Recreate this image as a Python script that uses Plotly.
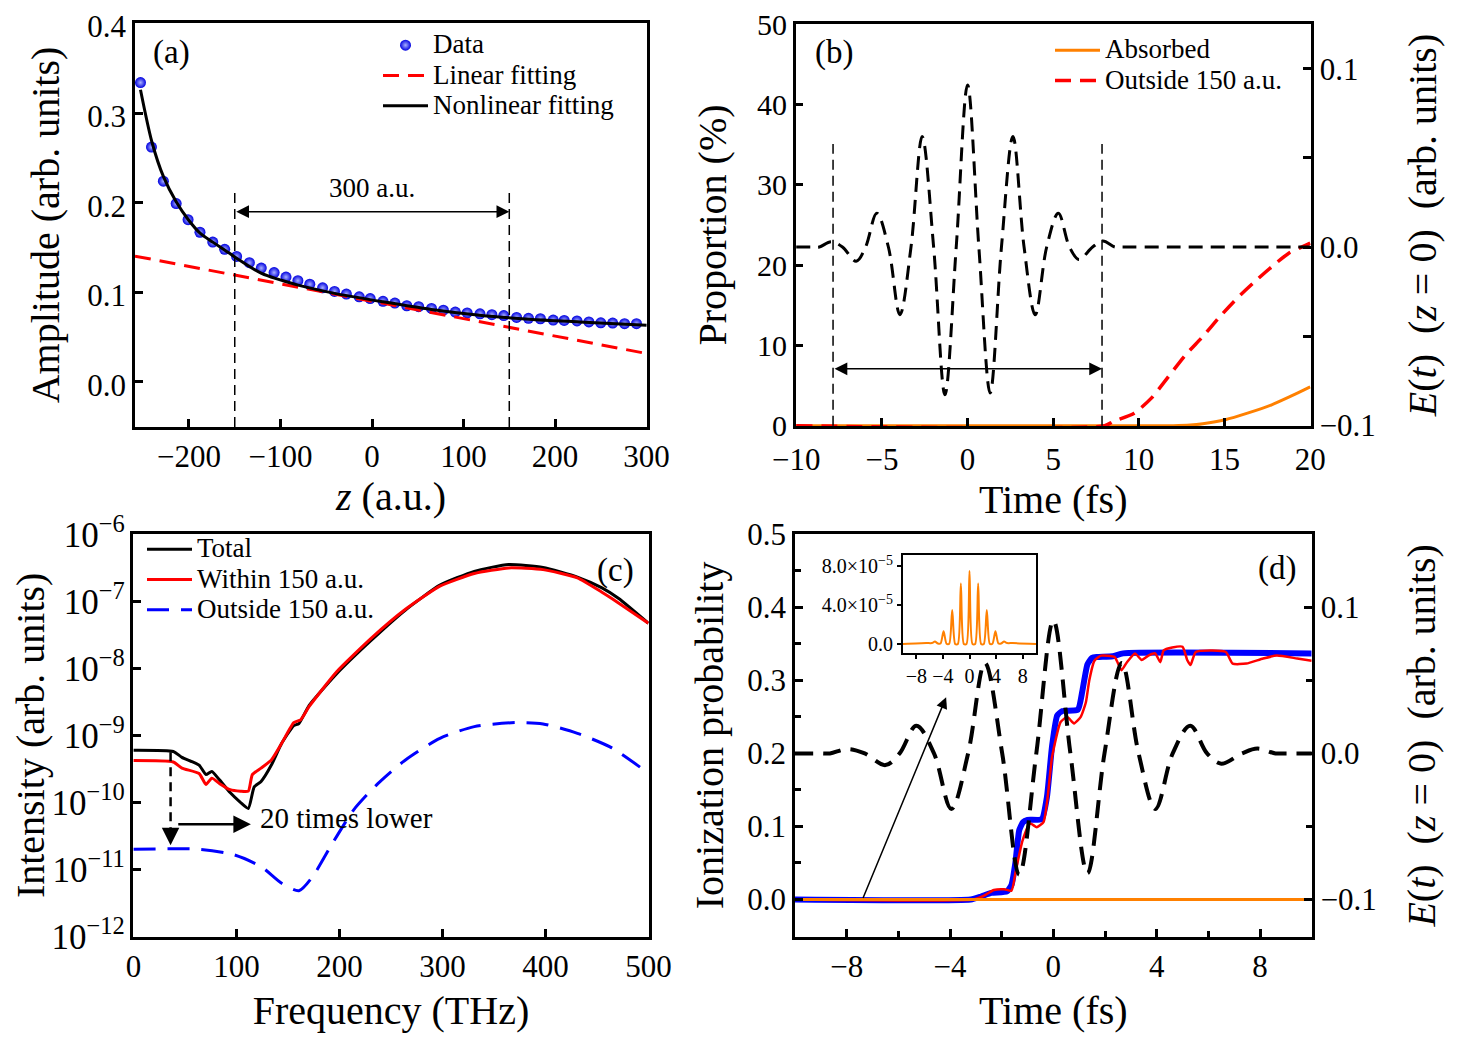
import math
import plotly.graph_objects as go

FONT = "Liberation Serif"
PAGE_W, PAGE_H = 1458, 1041
OX, OY = 8, 8                      # default page body margin
W, H = PAGE_W - OX, PAGE_H - OY    # figure size that fits the window

# ----------------------------- panel (a) data -----------------------------
z_data = [-253, -241, -228, -214, -201, -188, -174, -161, -148, -134, -121, -107,
          -94, -81, -68, -54, -41, -28, -14, -2, 12, 25, 38, 51, 65, 78, 91, 104,
          118, 131, 144, 158, 171, 184, 198, 210, 224, 237, 250, 263, 276, 289]
amp_data = [0.334, 0.262, 0.224, 0.199, 0.181, 0.167, 0.156, 0.148, 0.140, 0.133,
            0.127, 0.122, 0.117, 0.113, 0.109, 0.105, 0.101, 0.098, 0.095, 0.093,
            0.090, 0.088, 0.085, 0.084, 0.082, 0.080, 0.078, 0.077, 0.076, 0.075,
            0.074, 0.072, 0.071, 0.0705, 0.069, 0.0686, 0.068, 0.067, 0.066,
            0.0657, 0.065, 0.065]
z_nonlin = [-253, -240.6, -227.9, -214, -200.7, -187.9, -174, -160.7, -147.9,
            -120.7, -80.8, -40.8, 12, 64.8, 117.5, 172, 226.6, 300]
amp_nonlin = [0.326, 0.268, 0.229, 0.201, 0.181, 0.166, 0.156, 0.147, 0.138,
              0.121, 0.108, 0.0988, 0.0894, 0.0809, 0.0745, 0.070, 0.067, 0.0633]
z_linear = [-259, 300]
amp_linear = [0.1404, 0.0317]
window_a = [-150, 150]
window_a_top = 0.216
window_a_arrow = 0.19
label_a = "300 a.u."

# ----------------------------- panel (b) data -----------------------------
t_field = [-10, -9, -8.65, -7.95, -7.3, -6.5, -5.95, -5.3, -4.62, -3.95, -3.3,
           -2.65, -1.98, -1.32, -0.66, 0, 0.66, 1.32, 1.98, 2.65, 3.3, 3.95, 4.62,
           5.3, 5.95, 6.5, 7.3, 7.9, 8.6, 9, 12, 16, 20]
e_field = [0, 0, 0, 0.003, 0, -0.008, 0, 0.019, 0, -0.038, 0,
           0.062, 0, -0.083, 0, 0.091, 0, -0.082, 0, 0.062, 0, -0.038, 0,
           0.019, 0, -0.007, 0, 0.0033, 0, 0, 0, 0, 0]
t_absorbed = [-10, 12.0, 13.0, 13.73, 15.04, 16.34, 17.75, 18.75, 19.85, 20]
p_absorbed = [0, 0, 0.08, 0.25, 0.75, 1.57, 2.61, 3.56, 4.69, 4.85]
t_outside = [-10, 8.0, 8.52, 9.73, 10.73, 11.73, 12.73, 13.73, 14.73, 15.74,
             16.74, 17.75, 18.75, 19.85, 20]
p_outside = [0, 0, 0.54, 1.57, 3.44, 6.13, 8.83, 11.1, 13.6, 15.9,
             17.9, 19.8, 21.5, 22.6, 22.75]
window_b = [-7.85, 7.85]
window_b_top = 35.1
window_b_arrow = 7.1

# ----------------------------- panel (c) data -----------------------------
freq_total = [0, 38.6, 47.0, 63.7, 70.4, 76.0, 83.7, 93.8, 103.8, 111.5,
              117.2, 123.9, 133.9, 143.9, 155.6, 160.6, 170.6, 197.3, 230.7, 264.1,
              297.5, 330.9, 364.3, 397.7, 431.1, 454.5, 471.2, 500]
int_total = [6.0e-10, 5.75e-10, 4.7e-10, 3.6e-10, 2.6e-10, 2.9e-10, 2.15e-10, 1.4e-10, 1.0e-10, 8.1e-11,
             1.7e-10, 2.05e-10, 3.6e-10, 7.6e-10, 1.4e-9, 1.5e-9, 2.8e-9, 8.3e-9, 2.6e-8, 7.4e-8,
             1.74e-7, 2.8e-7, 3.55e-7, 3.2e-7, 2.3e-7, 1.6e-7, 1.1e-7, 4.7e-8]
freq_within = [0, 38.6, 47.0, 63.7, 70.4, 76.0, 83.7, 93.8, 103.8, 111.5,
               115.4, 123.9, 133.9, 143.9, 155.6, 162.3, 170.6, 197.3, 230.7, 264.1,
               297.5, 330.9, 364.3, 397.7, 431.1, 454.5, 464.5, 500]
int_within = [4.2e-10, 4.0e-10, 3.25e-10, 2.7e-10, 1.85e-10, 2.3e-10, 1.9e-10, 1.55e-10, 1.47e-10, 1.47e-10,
              2.6e-10, 3.25e-10, 4.3e-10, 7.6e-10, 1.55e-9, 1.7e-9, 2.7e-9, 8.9e-9, 2.8e-8, 7.6e-8,
              1.68e-7, 2.6e-7, 3.15e-7, 2.97e-7, 2.24e-7, 1.38e-7, 1.1e-7, 4.7e-8]
freq_outside = [0, 63.7, 97.1, 123.9, 143.9, 160.6, 173.9, 190.6, 214.0, 237.3,
                264.1, 297.5, 330.9, 371.0, 397.7, 431.1, 464.5, 496.2]
int_outside = [2.0e-11, 2.0e-11, 1.66e-11, 1.1e-11, 6.2e-12, 4.8e-12, 7.8e-12, 2.1e-11, 7.8e-11, 1.9e-10,
               4.3e-10, 9.0e-10, 1.35e-9, 1.55e-9, 1.48e-9, 1.07e-9, 6.5e-10, 3.0e-10]
drop_f = 36
drop_top = 5.6e-10
drop_tail = 4.0e-11
drop_tip = 2.3e-11
shift_f = [42, 114]
shift_level = 4.7e-11
label_c = "20 times lower"
label_c_pos = [121, 5.8e-11]

# ----------------------------- panel (d) data -----------------------------
t_blue = [-10, -3.2, -2.8, -2.4, -1.8, -1.62, -1.47, -1.32, -1.17, -1.0, -0.45,
          -0.25, -0.05, 0.15, 0.35, 0.95, 1.12, 1.32, 1.5, 1.7, 2.3, 2.7, 10]
p_blue = [0, 0, 0.004, 0.009, 0.011, 0.02, 0.05, 0.095, 0.106, 0.109, 0.11,
          0.14, 0.21, 0.252, 0.258, 0.26, 0.285, 0.322, 0.331, 0.332, 0.333, 0.337, 0.337]
t_red = [-10, -3.1, -2.7, -2.3, -1.9, -1.62, -1.45, -1.19, -0.9, -0.64, -0.38,
         -0.22, -0.05, 0.28, 0.54, 0.80, 1.06, 1.26, 1.39, 1.59, 1.85, 2.37, 2.64,
         2.85, 3.16, 3.42, 3.68, 3.94, 4.14, 4.27, 4.6, 5.0, 5.18, 5.31, 5.51, 6.16,
         6.68, 6.94, 7.47, 8.12, 8.65, 9.44, 10]
p_red = [0, 0, 0.005, 0.013, 0.014, 0.012, 0.04, 0.081, 0.104, 0.099, 0.106,
         0.14, 0.195, 0.243, 0.25, 0.241, 0.25, 0.27, 0.30, 0.327, 0.334, 0.332, 0.314,
         0.325, 0.337, 0.328, 0.334, 0.337, 0.325, 0.341, 0.345, 0.346, 0.328, 0.321, 0.339, 0.341,
         0.339, 0.323, 0.323, 0.33, 0.334, 0.330, 0.327]
t_abs_d = [-10, 10]
p_abs_d = [0, 0]
pointer_tail = [-7.39, 0.0]
pointer_head = [-4.15, 0.277]

# inset
t_inset = [-10, -6.5, -5.65, -5.2, -4.75, -4.35, -3.9, -3.45, -3.05, -2.6, -2.15,
           -1.75, -1.3, -0.85, -0.45, 0, 0.45, 0.85, 1.3, 1.75, 2.15, 2.6, 3.05,
           3.45, 3.9, 4.35, 4.75, 5.2, 5.65, 6.5, 10]
rate_inset = [0, 0.1e-5, 0.1e-5, 0.25e-5, 0.05e-5, 0.05e-5, 1.3e-5, 0.02e-5, 0.02e-5, 3.5e-5, 0.0,
              0.0, 6.2e-5, 0.0, 0.0, 7.5e-5, 0.0, 0.0, 6.2e-5, 0.0, 0.0, 3.5e-5, 0.02e-5,
              0.02e-5, 1.3e-5, 0.05e-5, 0.05e-5, 0.25e-5, 0.1e-5, 0.1e-5, 0]
inset_yticks = [0, 4e-5, 8e-5]
inset_yticktext = ["0.0", "4.0×10<sup>−5</sup>", "8.0×10<sup>−5</sup>"]
inset_xticks = [-8, -4, 0, 4, 8]

# ----------------------------- ranges -----------------------------
ya_range = [-0.0503, 0.4005]
yb_range = [-0.03, 50.05]
yd_range = [-0.051, 0.5005]


def xd(a, b):
    return [(a - OX) / W, (b - OX) / W]


def yd(top, bottom):
    return [1 - (bottom - OY) / H, 1 - (top - OY) / H]


def px(x):
    return (x - OX) / W


def py(y):
    return 1 - (y - OY) / H


def big(s, size=27):
    return "<span style='font-size:%dpx'>%s</span>" % (size, s)


fig = go.Figure()

# ---- (a)
fig.add_trace(go.Scatter(x=z_data, y=amp_data, mode="markers", name=big("Data"),
                         marker=dict(size=11, color="#0000e0",
                                     gradient=dict(type="radial", color="#a8b0ff"),
                                     line=dict(width=0)),
                         xaxis="x", yaxis="y", legend="legend", legendrank=1))
fig.add_trace(go.Scatter(x=z_linear, y=amp_linear, mode="lines", name=big("Linear fitting"),
                         line=dict(color="#ff0000", width=3, dash="16px,9px"),
                         xaxis="x", yaxis="y", legend="legend", legendrank=2))
fig.add_trace(go.Scatter(x=z_nonlin, y=amp_nonlin, mode="lines", name=big("Nonlinear fitting"),
                         line=dict(color="black", width=3, shape="spline", smoothing=0.8),
                         xaxis="x", yaxis="y", legend="legend", legendrank=3))
fig.add_trace(go.Scatter(x=[window_a[0], window_a[0], None, window_a[1], window_a[1]],
                         y=[ya_range[0], window_a_top, None, ya_range[0], window_a_top],
                         mode="lines", line=dict(color="black", width=1.5, dash="10px,6px"),
                         showlegend=False, xaxis="x", yaxis="y"))

# ---- (b)
fig.add_trace(go.Scatter(x=t_absorbed, y=p_absorbed, mode="lines", name=big("Absorbed"),
                         line=dict(color="#ff8000", width=3, shape="spline", smoothing=0.6),
                         xaxis="x2", yaxis="y3", legend="legend2"))
fig.add_trace(go.Scatter(x=t_outside, y=p_outside, mode="lines", name=big("Outside 150 a.u."),
                         line=dict(color="#ff0000", width=3.5, dash="16px,9px",
                                   shape="spline", smoothing=0.6),
                         xaxis="x2", yaxis="y3", legend="legend2"))
fig.add_trace(go.Scatter(x=[window_b[0], window_b[0], None, window_b[1], window_b[1]],
                         y=[0, window_b_top, None, 0, window_b_top],
                         mode="lines", line=dict(color="black", width=1.5, dash="10px,6px"),
                         showlegend=False, xaxis="x2", yaxis="y3"))
fig.add_trace(go.Scatter(x=t_field, y=e_field, mode="lines", showlegend=False,
                         line=dict(color="black", width=3, dash="14px,8px",
                                   shape="spline", smoothing=1.0),
                         xaxis="x2", yaxis="y4"))

# ---- (c)
fig.add_trace(go.Scatter(x=freq_total, y=int_total, mode="lines", name=big("Total"),
                         line=dict(color="black", width=3, shape="spline", smoothing=0.5),
                         xaxis="x3", yaxis="y5", legend="legend3"))
fig.add_trace(go.Scatter(x=freq_within, y=int_within, mode="lines", name=big("Within 150 a.u."),
                         line=dict(color="#ff0000", width=3, shape="spline", smoothing=0.5),
                         xaxis="x3", yaxis="y5", legend="legend3"))
fig.add_trace(go.Scatter(x=freq_outside, y=int_outside, mode="lines", name=big("Outside 150 a.u."),
                         line=dict(color="#0000ff", width=3, dash="22px,12px",
                                   shape="spline", smoothing=0.7),
                         xaxis="x3", yaxis="y5", legend="legend3"))
fig.add_trace(go.Scatter(x=[drop_f, drop_f], y=[drop_top, drop_tail], mode="lines",
                         line=dict(color="black", width=2.5, dash="9px,6px"),
                         showlegend=False, xaxis="x3", yaxis="y5"))

# ---- (d)
fig.add_trace(go.Scatter(x=t_blue, y=p_blue, mode="lines", showlegend=False,
                         line=dict(color="#0000ff", width=6, shape="spline", smoothing=0.5),
                         xaxis="x4", yaxis="y6"))
fig.add_trace(go.Scatter(x=t_red, y=p_red, mode="lines", showlegend=False,
                         line=dict(color="#ff0000", width=2.5, shape="spline", smoothing=0.5),
                         xaxis="x4", yaxis="y6"))
fig.add_trace(go.Scatter(x=t_abs_d, y=p_abs_d, mode="lines", showlegend=False,
                         line=dict(color="#ff8000", width=3),
                         xaxis="x4", yaxis="y6"))
fig.add_trace(go.Scatter(x=t_field, y=e_field, mode="lines", showlegend=False,
                         line=dict(color="black", width=4, dash="18px,10px",
                                   shape="spline", smoothing=1.0),
                         xaxis="x4", yaxis="y7"))

# ---- inset
fig.add_trace(go.Scatter(x=t_inset, y=rate_inset, mode="lines", showlegend=False,
                         line=dict(color="#ff8000", width=2, shape="spline", smoothing=0.7),
                         xaxis="x5", yaxis="y8"))

tickfont = dict(family=FONT, size=31, color="black")
titlefont = dict(family=FONT, size=40, color="black")


def base_axis(**kw):
    d = dict(showline=True, linewidth=2.5, linecolor="black", mirror=True,
             ticks="inside", ticklen=8, tickwidth=2.5, tickcolor="black",
             showgrid=False, zeroline=False, tickfont=tickfont,
             ticklabeloverflow="allow")
    d.update(kw)
    return d


E_title = "<i>E</i>(<i>t</i>)  (<i>z</i> = 0)  (arb. units)"
legend_common = dict(xanchor="left", yanchor="top",
                     font=dict(family=FONT, size=21, color="black"),
                     bgcolor="rgba(0,0,0,0)", itemwidth=45, tracegroupgap=0)

fig.update_layout(
    width=W, height=H,
    margin=dict(l=0, r=0, t=0, b=0, pad=0, autoexpand=False),
    paper_bgcolor="white", plot_bgcolor="white",
    font=dict(family=FONT, color="black"),
    hovermode=False,
    # (a)
    xaxis=base_axis(domain=xd(135, 647), range=[-259, 300.5], dtick=100, tick0=0,
                    anchor="y",
                    title=dict(text="<i>z</i> (a.u.)", font=titlefont, standoff=10)),
    yaxis=base_axis(domain=yd(23, 427), range=ya_range, dtick=0.1, tickformat=".1f",
                    anchor="x", ticklabelshift=3,
                    title=dict(text="Amplitude (arb. units)", font=titlefont, standoff=16)),
    yaxis2=dict(overlaying="y", side="right", anchor="x", range=[0, 4], dtick=1,
                showticklabels=False, ticks="inside", ticklen=8, tickwidth=2.5,
                tickcolor="black", showline=False, showgrid=False, zeroline=False),
    # (b)
    xaxis2=base_axis(domain=xd(795.7, 1310.7), range=[-10.03, 20.03], dtick=5, tick0=0,
                     anchor="y3", ticklabelstandoff=4,
                     title=dict(text="Time (fs)", font=titlefont, standoff=6)),
    yaxis3=base_axis(domain=yd(24, 426), range=yb_range, dtick=10, anchor="x2",
                     tickfont=dict(family=FONT, size=30, color="black"),
                     title=dict(text="Proportion (%)", font=titlefont, standoff=18)),
    yaxis4=base_axis(overlaying="y3", side="right", anchor="x2", range=[-0.1005, 0.1252],
                     tickvals=[-0.1, 0.0, 0.1], tickformat=".1f", mirror=False,
                     minor=dict(ticks="inside", ticklen=8, tickwidth=2.5, dtick=0.05,
                                tick0=0, tickcolor="black"),
                     title=dict(text=E_title, font=titlefont, standoff=34)),
    # (c)
    xaxis3=base_axis(domain=xd(133.2, 648.7), range=[-0.3, 500.3], dtick=100, tick0=0,
                     anchor="y5",
                     title=dict(text="Frequency (THz)", font=titlefont, standoff=14)),
    yaxis5=base_axis(domain=yd(534, 936.7), type="log", range=[-12.004, -5.996], dtick=1,
                     exponentformat="power", anchor="x3",
                     tickfont=dict(family=FONT, size=28, color="black"),
                     title=dict(text="Intensity (arb. units)", font=titlefont, standoff=20)),
    # (d)
    xaxis4=base_axis(domain=xd(795, 1311.7), range=[-10, 10], dtick=4, tick0=0,
                     anchor="y6",
                     minor=dict(ticks="inside", ticklen=6, tickwidth=2.5, dtick=2, tick0=0,
                                tickcolor="black"),
                     title=dict(text="Time (fs)", font=titlefont, standoff=14)),
    yaxis6=base_axis(domain=yd(534, 936.7), range=yd_range, dtick=0.1, tickformat=".1f",
                     anchor="x4",
                     minor=dict(ticks="inside", ticklen=6, tickwidth=2.5, dtick=0.05, tick0=0,
                                tickcolor="black"),
                     title=dict(text="Ionization probability", font=titlefont, standoff=12)),
    yaxis7=base_axis(overlaying="y6", side="right", anchor="x4",
                     range=[(yd_range[0] - 0.2) / 2, (yd_range[1] - 0.2) / 2],
                     tickvals=[-0.1, 0.0, 0.1], tickformat=".1f", mirror=False,
                     minor=dict(ticks="inside", ticklen=6, tickwidth=2.5, dtick=0.05,
                                tick0=0, tickcolor="black"),
                     title=dict(text=E_title, font=titlefont, standoff=32)),
    # inset
    xaxis5=dict(domain=xd(903, 1036), range=[-10, 10], tickvals=inset_xticks,
                anchor="y8", showline=True, linewidth=2, linecolor="black", mirror=True,
                ticks="outside", ticklen=4, tickwidth=1.5, tickcolor="black",
                showgrid=False, zeroline=False,
                tickfont=dict(family=FONT, size=20, color="black")),
    yaxis8=dict(domain=yd(555, 653), range=[-0.92e-5, 9.13e-5], tickvals=inset_yticks,
                ticktext=inset_yticktext, anchor="x5", showline=True, linewidth=2,
                linecolor="black", mirror=True, ticks="outside", ticklen=4, tickwidth=1.5,
                tickcolor="black", showgrid=False, zeroline=False,
                tickfont=dict(family=FONT, size=20, color="black")),
    legend=dict(x=px(378), y=py(25), **legend_common),
    legend2=dict(x=px(1050), y=py(30), **legend_common),
    legend3=dict(x=px(142), y=py(529), **legend_common),
)

ann = []
# (a) double arrow and label
ann.append(dict(x=window_a[1], y=window_a_arrow, ax=window_a[0], ay=window_a_arrow,
                xref="x", yref="y", axref="x", ayref="y", text="", showarrow=True,
                arrowside="end+start", arrowhead=2, startarrowhead=2, arrowsize=1.7,
                startarrowsize=1.7, arrowwidth=1.5, arrowcolor="black"))
ann.append(dict(x=0, y=window_a_top, xref="x", yref="y", text=label_a, showarrow=False,
                xanchor="center", yanchor="middle",
                font=dict(family=FONT, size=27, color="black")))
# (b) double arrow
ann.append(dict(x=window_b[1], y=window_b_arrow, ax=window_b[0], ay=window_b_arrow,
                xref="x2", yref="y3", axref="x2", ayref="y3", text="", showarrow=True,
                arrowside="end+start", arrowhead=2, startarrowhead=2, arrowsize=1.7,
                startarrowsize=1.7, arrowwidth=1.5, arrowcolor="black"))
# (c) arrows and label (log axis: annotation positions in log10 units)
ann.append(dict(x=drop_f, y=math.log10(drop_tip), ax=drop_f, ay=math.log10(drop_tail),
                xref="x3", yref="y5", axref="x3", ayref="y5", text="", showarrow=True,
                arrowhead=2, arrowsize=1.4, arrowwidth=2.5, arrowcolor="black"))
ann.append(dict(x=shift_f[1], y=math.log10(shift_level), ax=shift_f[0], ay=math.log10(shift_level),
                xref="x3", yref="y5", axref="x3", ayref="y5", text="", showarrow=True,
                arrowhead=2, arrowsize=1.4, arrowwidth=2.5, arrowcolor="black"))
ann.append(dict(x=label_c_pos[0], y=math.log10(label_c_pos[1]), xref="x3", yref="y5",
                xanchor="left", yanchor="middle", text=label_c, showarrow=False,
                font=dict(family=FONT, size=29, color="black")))
# (d) pointer to inset
ann.append(dict(x=pointer_head[0], y=pointer_head[1], ax=pointer_tail[0], ay=pointer_tail[1],
                xref="x4", yref="y6", axref="x4", ayref="y6", text="", showarrow=True,
                arrowhead=2, arrowsize=1.5, arrowwidth=1.5, arrowcolor="black"))
# panel labels
for txt, xx, yy in [("(a)", 171, 52), ("(b)", 834, 52), ("(c)", 615, 570), ("(d)", 1277, 568)]:
    ann.append(dict(x=px(xx), y=py(yy), xref="paper", yref="paper", text=txt,
                    xanchor="center", yanchor="middle",
                    showarrow=False, font=dict(family=FONT, size=33, color="black")))

fig.update_layout(annotations=ann)
fig.write_html("out.html")
